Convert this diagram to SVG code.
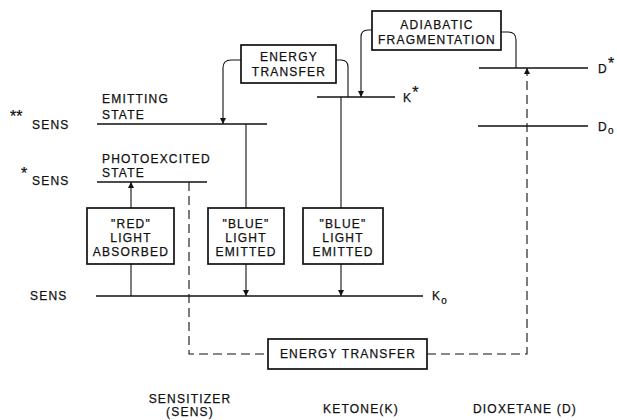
<svg xmlns="http://www.w3.org/2000/svg" width="617" height="420" viewBox="0 0 617 420">
<defs>
<marker id="arr" viewBox="0 0 10 10" refX="10" refY="5" markerWidth="6" markerHeight="6" markerUnits="userSpaceOnUse" orient="auto">
<path d="M0,0 L10,5 L0,10 z" fill="#111"/>
</marker>
<style>
text{font-family:"Liberation Sans",Arial,sans-serif;font-size:12px;letter-spacing:1.2px;fill:#111;stroke:#111;stroke-width:0.25}
.c{text-anchor:middle}
.lvl{stroke:#111;stroke-width:1.7;fill:none}
.ln{stroke:#111;stroke-width:1.1;fill:none}
.dash{stroke:#111;stroke-width:1.1;fill:none;stroke-dasharray:9,5}
.box{fill:#fff;stroke:#111;stroke-width:1.7}
.sup{font-size:16px;letter-spacing:0}
.sub{font-size:10px}
</style>
</defs>
<rect width="617" height="420" fill="#fff"/>
<g id="connectors">
<path class="ln" d="M241,60 H231 Q223,60 223,68 V124" marker-end="url(#arr)"/>
<path class="ln" d="M336,60 H341 Q348,60 348,67 V97"/>
<path class="ln" d="M372,30 H368 Q361,30 361,37 V97" marker-end="url(#arr)"/>
<path class="ln" d="M501,32 H508 Q516,32 516,40 V68"/>
<path class="ln" d="M246,124 V208"/>
<path class="ln" d="M246,264 V296" marker-end="url(#arr)"/>
<path class="ln" d="M341,97 V208"/>
<path class="ln" d="M341,264 V296" marker-end="url(#arr)"/>
<path class="ln" d="M131,208 V182" marker-end="url(#arr)"/>
<path class="ln" d="M131,264 V296"/>
<path class="dash" d="M189,182 V354 H268"/>
<path class="dash" d="M427,354 H527 V68" marker-end="url(#arr)"/>
</g>
<g id="level-emitting">
<path class="lvl" d="M97,124 H267"/>
<text x="102" y="103">EMITTING</text>
<text x="102" y="119">STATE</text>
<text x="10" y="122" class="sup">**</text>
<text x="32" y="129">SENS</text>
</g>
<g id="level-photoexcited">
<path class="lvl" d="M97,182 H207"/>
<text x="102" y="163">PHOTOEXCITED</text>
<text x="102" y="177">STATE</text>
<text x="21" y="179" class="sup">*</text>
<text x="32" y="185">SENS</text>
</g>
<g id="level-ground">
<path class="lvl" d="M96,296 H423"/>
<text x="30" y="300">SENS</text>
<text x="432" y="300">K<tspan class="sub" dy="4">o</tspan></text>
</g>
<g id="level-kstar">
<path class="lvl" d="M317,97 H395"/>
<text x="403" y="102">K<tspan class="sup" dy="-4">*</tspan></text>
</g>
<g id="level-dstar">
<path class="lvl" d="M479,68 H588"/>
<text x="598" y="73">D<tspan class="sup" dy="-4">*</tspan></text>
</g>
<g id="level-d0">
<path class="lvl" d="M478,126 H588"/>
<text x="598" y="131">D<tspan class="sub" dy="3">o</tspan></text>
</g>
<g id="energy-transfer-top">
<rect class="box" x="241" y="45" width="95" height="38"/>
<text class="c" x="289" y="61">ENERGY</text>
<text class="c" x="289" y="76">TRANSFER</text>
</g>
<g id="adiabatic">
<rect class="box" x="372" y="11" width="129" height="39"/>
<text class="c" x="437" y="29">ADIABATIC</text>
<text class="c" x="437" y="44">FRAGMENTATION</text>
</g>
<g id="red-absorbed">
<rect class="box" x="87" y="208" width="87" height="56"/>
<text class="c" x="131" y="228">"RED"</text>
<text class="c" x="131" y="242">LIGHT</text>
<text class="c" x="131" y="256">ABSORBED</text>
</g>
<g id="blue-emitted-1">
<rect class="box" x="208" y="208" width="76" height="56"/>
<text class="c" x="246" y="228">"BLUE"</text>
<text class="c" x="246" y="242">LIGHT</text>
<text class="c" x="246" y="256">EMITTED</text>
</g>
<g id="blue-emitted-2">
<rect class="box" x="303" y="208" width="80" height="56"/>
<text class="c" x="343" y="228">"BLUE"</text>
<text class="c" x="343" y="242">LIGHT</text>
<text class="c" x="343" y="256">EMITTED</text>
</g>
<g id="energy-transfer-bottom">
<rect class="box" x="268" y="339" width="159" height="30"/>
<text class="c" x="348" y="358">ENERGY TRANSFER</text>
</g>
<g id="captions">
<text class="c" x="190" y="403">SENSITIZER</text>
<text class="c" x="190" y="416">(SENS)</text>
<text class="c" x="361" y="413">KETONE(K)</text>
<text class="c" x="525" y="413">DIOXETANE (D)</text>
</g>
</svg>
